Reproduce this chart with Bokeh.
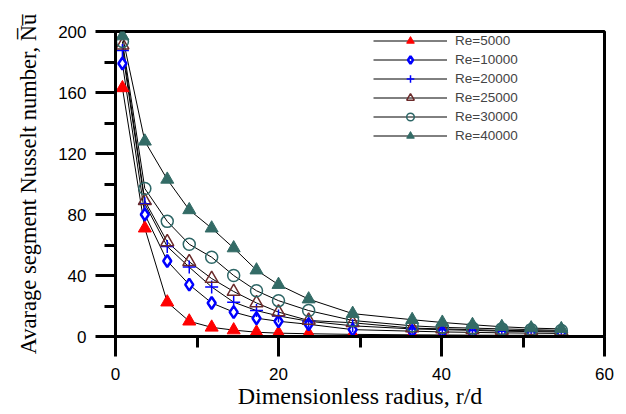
from bokeh.plotting import figure
from bokeh.models import Legend, LegendItem, Range1d, FixedTicker
from bokeh.embed import file_html
from bokeh.resources import INLINE

r_d = [0.85, 3.6, 6.35, 9.05, 11.8, 14.5, 17.3, 20.0, 23.7, 29.1, 36.4, 40.1, 43.8, 47.4, 51.0, 54.7]
nu_5000 = [163, 71, 22.5, 10, 6, 4.2, 2.8, 2.2, 1.8, 1.4, 1.1, 1.0, 0.9, 0.8, 0.8, 0.7]
nu_10000 = [179, 80, 49.5, 34, 22, 16, 12, 10, 8, 4.5, 3.5, 3.0, 2.7, 2.4, 2.2, 2.0]
nu_20000 = [187.5, 87, 59, 45.5, 32.5, 22.5, 17, 13.5, 10, 7, 5, 4.5, 4, 3.5, 3.2, 3]
nu_25000 = [191, 89, 62, 49, 38, 29.5, 22, 16, 10.5, 9, 5.5, 5, 4.5, 4, 3.8, 3.5]
nu_30000 = [193.5, 97, 75.5, 60.5, 52, 40, 30, 23.5, 17, 10.5, 7, 6, 5.5, 5, 4.5, 4]
nu_40000 = [197, 128, 103, 83, 71, 58, 43.5, 34, 24.5, 15, 11, 9.2, 7.7, 6.4, 5.5, 5]

labels = ["Re=5000", "Re=10000", "Re=20000", "Re=25000", "Re=30000", "Re=40000"]
x_ticks = [0, 20, 40, 60]
x_minor = [10, 30, 50]
y_ticks = [0, 40, 80, 120, 160, 200]
y_minor = [20, 60, 100, 140, 180]

p = figure(width=626, height=414, output_backend="svg", toolbar_location=None,
           x_range=Range1d(0, 60), y_range=Range1d(0, 200),
           min_border_left=115, min_border_right=22, min_border_top=31, min_border_bottom=78)
p.xgrid.visible = False
p.ygrid.visible = False
p.outline_line_color = "black"
p.outline_line_width = 3
p.outline_line_alpha = 1

for ax in (p.xaxis, p.yaxis):
    ax.axis_line_width = 3
    ax.axis_line_color = "black"
    ax.major_tick_line_width = 3
    ax.major_tick_line_color = "black"
    ax.minor_tick_line_width = 3
    ax.minor_tick_line_color = "black"
    ax.major_tick_out = 20
    ax.major_tick_in = 0
    ax.minor_tick_out = 11
    ax.minor_tick_in = 0
    ax.major_label_text_font = "Liberation Sans"
    ax.major_label_text_font_size = "17px"
    ax.major_label_text_color = "black"
    ax.axis_label_text_font = "Liberation Serif"
    ax.axis_label_text_font_style = "normal"
    ax.axis_label_text_color = "black"

p.xaxis.ticker = FixedTicker(ticks=x_ticks, minor_ticks=x_minor)
p.yaxis.ticker = FixedTicker(ticks=y_ticks, minor_ticks=y_minor)
p.xaxis.major_label_standoff = 11
p.yaxis.major_label_standoff = 9
p.xaxis.axis_label = "Dimensionless radius, r/d"
p.yaxis.axis_label = "Avarage segment Nusselt number, N\u0305u\u0305"
p.xaxis.axis_label_text_font_size = "24px"
p.yaxis.axis_label_text_font_size = "22.5px"
p.xaxis.axis_label_standoff = 0
p.yaxis.axis_label_standoff = 14

series = [nu_5000, nu_10000, nu_20000, nu_25000, nu_30000, nu_40000]
styles = [
    dict(marker="triangle", size=13, fill_color="#ff0000", line_color="#ff0000", line_width=1),
    dict(marker="diamond", size=12, fill_color="white", line_color="#0000ff", line_width=2.5),
    dict(marker="cross", size=13, fill_color=None, line_color="#0000ff", line_width=1.5),
    dict(marker="triangle", size=13, fill_color=None, line_color="#6b2b2b", line_width=1.5),
    dict(marker="circle", size=12, fill_color=None, line_color="#2d6666", line_width=1.5),
    dict(marker="triangle", size=13, fill_color="#336b66", line_color="#336b66", line_width=1),
]

line_rs = []
for ys in series:
    line_rs.append(p.line(r_d, ys, line_color="black", line_width=1))
items = []
for lab, ys, st, lr in zip(labels, series, styles, line_rs):
    sr = p.scatter(r_d, ys, **st)
    items.append(LegendItem(label=lab, renderers=[lr, sr]))

legend = Legend(items=items, location=(258, 191), padding=0, margin=0,
                glyph_width=74, glyph_height=19, spacing=0, label_standoff=8,
                label_text_font="Liberation Sans", label_text_font_size="13.5px",
                label_height=19, border_line_color=None, background_fill_alpha=0)
p.add_layout(legend)

open("out.html", "w").write(file_html(p, INLINE))
